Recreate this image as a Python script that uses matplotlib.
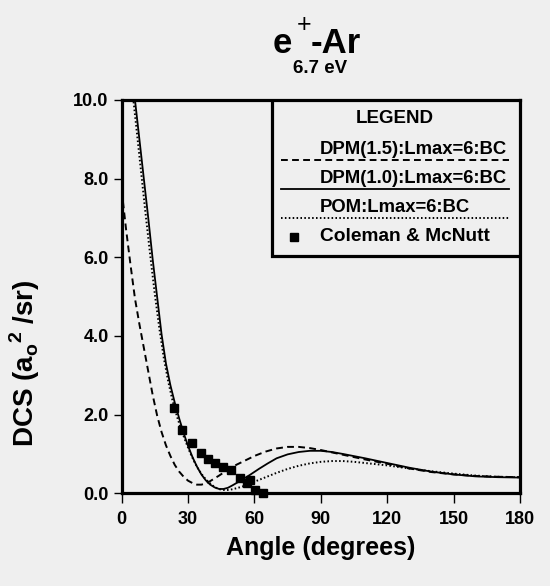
import numpy as np
import matplotlib.pyplot as plt

plt.rcParams["font.family"] = ["Liberation Sans", "DejaVu Sans"]
plt.rcParams["mathtext.fontset"] = "custom"
plt.rcParams["mathtext.rm"] = "Liberation Sans:bold"
plt.rcParams["mathtext.bf"] = "Liberation Sans:bold"

# ----------------------------
# Data
# ----------------------------
dpm15_angle = [0, 2, 4, 6, 8, 10, 12, 14, 16, 18, 20, 22, 24, 26, 28, 30, 32,
               34, 36, 38, 40, 44, 48, 52, 56, 60, 65, 70, 75, 80, 85, 90,
               100, 110, 120, 130, 140, 150, 160, 170, 180]
dpm15_dcs = [7.7, 6.7, 5.8, 4.95, 4.3, 3.7, 3.1, 2.5, 1.98, 1.56, 1.22, 0.95,
             0.72, 0.55, 0.42, 0.32, 0.26, 0.22, 0.22, 0.25, 0.31, 0.45, 0.6,
             0.73, 0.84, 0.95, 1.06, 1.14, 1.18, 1.18, 1.15, 1.10, 0.98, 0.86,
             0.75, 0.63, 0.54, 0.48, 0.44, 0.42, 0.41]

dpm10_angle = [5, 6, 8, 10, 12, 14, 16, 18, 20, 22, 24, 26, 28, 30, 32, 34, 36,
               38, 40, 42, 44, 46, 48, 50, 54, 58, 62, 66, 70, 75, 80, 85, 90,
               95, 100, 110, 120, 130, 140, 150, 160, 170, 180]
dpm10_dcs = [10.5, 10.0, 9.0, 8.0, 7.0, 5.95, 5.0, 4.05, 3.3, 2.75, 2.3, 1.9,
             1.53, 1.2, 0.92, 0.68, 0.48, 0.33, 0.22, 0.15, 0.11, 0.11, 0.14,
             0.2, 0.33, 0.47, 0.62, 0.76, 0.89, 0.99, 1.05, 1.08, 1.08, 1.05,
             1.0, 0.89, 0.77, 0.65, 0.55, 0.48, 0.43, 0.41, 0.40]

pom_angle = [5, 7, 9, 11, 13, 15, 17, 19, 21, 23, 25, 27, 29, 31, 33, 35, 37,
             39, 41, 43, 45, 47, 49, 52, 55, 58, 62, 66, 70, 75, 80, 85, 90,
             95, 100, 105, 110, 120, 130, 140, 150, 160, 170, 180]
pom_dcs = [10.15, 9.1, 8.05, 7.0, 6.0, 5.05, 4.2, 3.45, 2.85, 2.35, 1.95, 1.6,
           1.3, 1.02, 0.78, 0.58, 0.42, 0.3, 0.2, 0.13, 0.09, 0.08, 0.09, 0.13,
           0.18, 0.25, 0.34, 0.43, 0.52, 0.62, 0.70, 0.76, 0.80, 0.82, 0.82,
           0.80, 0.77, 0.71, 0.63, 0.56, 0.50, 0.45, 0.42, 0.41]

exp_angle = [23.8, 27.3, 31.8, 35.9, 39.1, 42.1, 45.9, 49.2, 53.5, 56.4, 58.0,
             60.3, 63.9]
exp_dcs = [2.18, 1.62, 1.27, 1.02, 0.88, 0.78, 0.68, 0.59, 0.39, 0.27, 0.34,
           0.08, 0.02]

xticks = [0, 30, 60, 90, 120, 150, 180]
yticks = [0, 2, 4, 6, 8, 10]

legend_labels = ["DPM(1.5):Lmax=6:BC", "DPM(1.0):Lmax=6:BC", "POM:Lmax=6:BC",
                 "Coleman & McNutt"]

bg = "#efefef"

fig = plt.figure(figsize=(5.5, 5.86), dpi=100, facecolor=bg)
W, H = 550.0, 586.0
ax_l, ax_r, ax_t, ax_b = 121.7, 520.0, 100.0, 493.3
ax = fig.add_axes([ax_l / W, 1 - ax_b / H, (ax_r - ax_l) / W, (ax_b - ax_t) / H])
ax.set_facecolor(bg)


def px2ax(px, py):
    return (px - ax_l) / (ax_r - ax_l), (ax_b - py) / (ax_b - ax_t)


ax.plot(dpm15_angle, dpm15_dcs, color="black", lw=1.4, linestyle=(0, (3.5, 2.2)))
ax.plot(dpm10_angle, dpm10_dcs, color="black", lw=1.3)
ax.plot(pom_angle, pom_dcs, color="black", lw=1.4, linestyle=(0, (0.8, 1.2)))
ax.plot(exp_angle, exp_dcs, linestyle="none", marker="s", ms=5.5,
        color="black", clip_on=False, zorder=5)

ax.set_xlim(0, 180)
ax.set_ylim(0, 10)
ax.set_xticks(xticks)
ax.set_yticks(yticks)
ax.set_xticklabels([str(v) for v in xticks])
ax.set_yticklabels([f"{v:.1f}" for v in yticks])
for lab in ax.get_xticklabels() + ax.get_yticklabels():
    lab.set_fontweight("bold")
    lab.set_fontsize(13)
ax.tick_params(axis="x", direction="out", length=7, width=1, pad=5.5)
ax.tick_params(axis="y", direction="out", length=6, width=1, pad=3.5)
for sp in ax.spines.values():
    sp.set_linewidth(2.3)

ax.set_xlabel("Angle (degrees)", fontsize=18, fontweight="bold")
ax.xaxis.set_label_coords(0.5, (ax_b - 555) / (ax_b - ax_t))
ax.xaxis.label.set_va("baseline")
ax.set_ylabel(r"DCS (a$_\mathregular{o}$$^\mathregular{2}$ /sr)", fontsize=20,
              fontweight="bold")
ax.yaxis.set_label_coords((42 - ax_l) / (ax_r - ax_l),
                          (ax_b - 363) / (ax_b - ax_t))

# title: "e", superscript "+", "-Ar"
fig.text(292 / W, 1 - 53.3 / H, "e", fontsize=25, fontweight="bold",
         ha="right", va="baseline")
fig.text(304 / W, 1 - 25 / H, "+", fontsize=18, ha="center", va="center")
fig.text(311 / W, 1 - 53.3 / H, "-Ar", fontsize=25, fontweight="bold",
         ha="left", va="baseline")
fig.text(320 / W, 1 - 73.3 / H, "6.7 eV", fontsize=13.5, fontweight="bold",
         ha="center", va="baseline")

# ----------------------------
# Legend box (drawn by hand)
# ----------------------------
bx0, by0 = px2ax(271.7, 255.7)
box = plt.Rectangle((bx0, by0), 1 - bx0, 1 - by0, transform=ax.transAxes,
                    facecolor=bg, edgecolor="black", lw=2.3, zorder=6)
ax.add_patch(box)

tx, ty = px2ax(395, 118.3)
ax.text(tx, ty, "LEGEND", transform=ax.transAxes, ha="center", va="center",
        fontsize=13.5, fontweight="bold", zorder=7)

styles = [dict(linestyle=(0, (3.5, 2.2)), lw=1.4),
          dict(linestyle="-", lw=1.3),
          dict(linestyle=(0, (0.8, 1.2)), lw=1.4)]
text_y = [149.3, 178.3, 207.3]
line_y = [160, 189, 218.3]
for lab, st, tyy, lyy in zip(legend_labels[:3], styles, text_y, line_y):
    x0, y0 = px2ax(319.5, tyy)
    ax.text(x0, y0, lab, transform=ax.transAxes, ha="left", va="center",
            fontsize=13.3, fontweight="bold", zorder=7)
    lx0, ly = px2ax(280.7, lyy)
    lx1, _ = px2ax(509.3, lyy)
    ax.plot([lx0, lx1], [ly, ly], transform=ax.transAxes, color="black",
            zorder=7, **st)

mx, my = px2ax(294.3, 236.7)
ax.plot([mx], [my], transform=ax.transAxes, marker="s", ms=5.5,
        color="black", linestyle="none", zorder=7)
cx, cy = px2ax(320, 236.7)
ax.text(cx, cy, legend_labels[3], transform=ax.transAxes, ha="left",
        va="center", fontsize=13.8, fontweight="bold", zorder=7)

fig.savefig("out.png", dpi=100, facecolor=bg)
